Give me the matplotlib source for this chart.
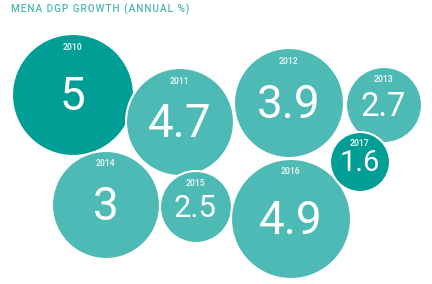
import matplotlib
matplotlib.use("Agg")
import matplotlib.pyplot as plt
from matplotlib.patches import Circle

plt.rcParams['font.family'] = ['Roboto', 'DejaVu Sans']

years = ["2010", "2011", "2012", "2013", "2014", "2015", "2016", "2017"]
growth = [5, 4.7, 3.9, 2.7, 3, 2.5, 4.9, 1.6]
highlight = [True, False, False, False, False, False, False, True]

# layout (pixel coordinates of bubble centres and radii)
cx = [73, 180, 289, 384, 106, 196, 291, 360]
cy = [95, 122, 103, 105, 205, 207, 219, 162]
rad = [61, 54, 55, 38, 54, 36, 60, 30]

DARK = "#009E94"
LIGHT = "#4EBAB5"

fig = plt.figure(figsize=(4.32, 2.84), dpi=100)
ax = fig.add_axes([0, 0, 1, 1])
ax.set_xlim(0, 432)
ax.set_ylim(284, 0)
ax.set_aspect('equal')
ax.axis('off')

for i in range(len(years)):
    col = DARK if highlight[i] else LIGHT
    ax.add_patch(Circle((cx[i], cy[i]), rad[i], facecolor=col,
                        edgecolor='white', linewidth=1.5, zorder=2))
    txt = f"{growth[i]:g}"
    fs = min(max(rad[i] * 0.62, 21), 33)
    ax.text(cx[i] - 0.5, cy[i] + rad[i] * 0.04, txt, ha='center', va='center',
            color='white', fontsize=fs, zorder=3)
    ly = cy[i] - rad[i] + (13 if rad[i] > 45 else 12)
    ax.text(cx[i], ly, years[i], ha='center', va='center',
            color='#DDF2F0', fontsize=6.2, fontweight='bold', zorder=3)

title = "MENA DGP GROWTH (ANNUAL %)"
fig.text(11 / 432, 1 - 9 / 284, "\u200a".join(title), ha='left', va='center',
         color='#4DB6AC', fontsize=7.2, fontweight='medium',
         family=['Roboto', 'DejaVu Sans'])

fig.savefig("out.png", dpi=100)
